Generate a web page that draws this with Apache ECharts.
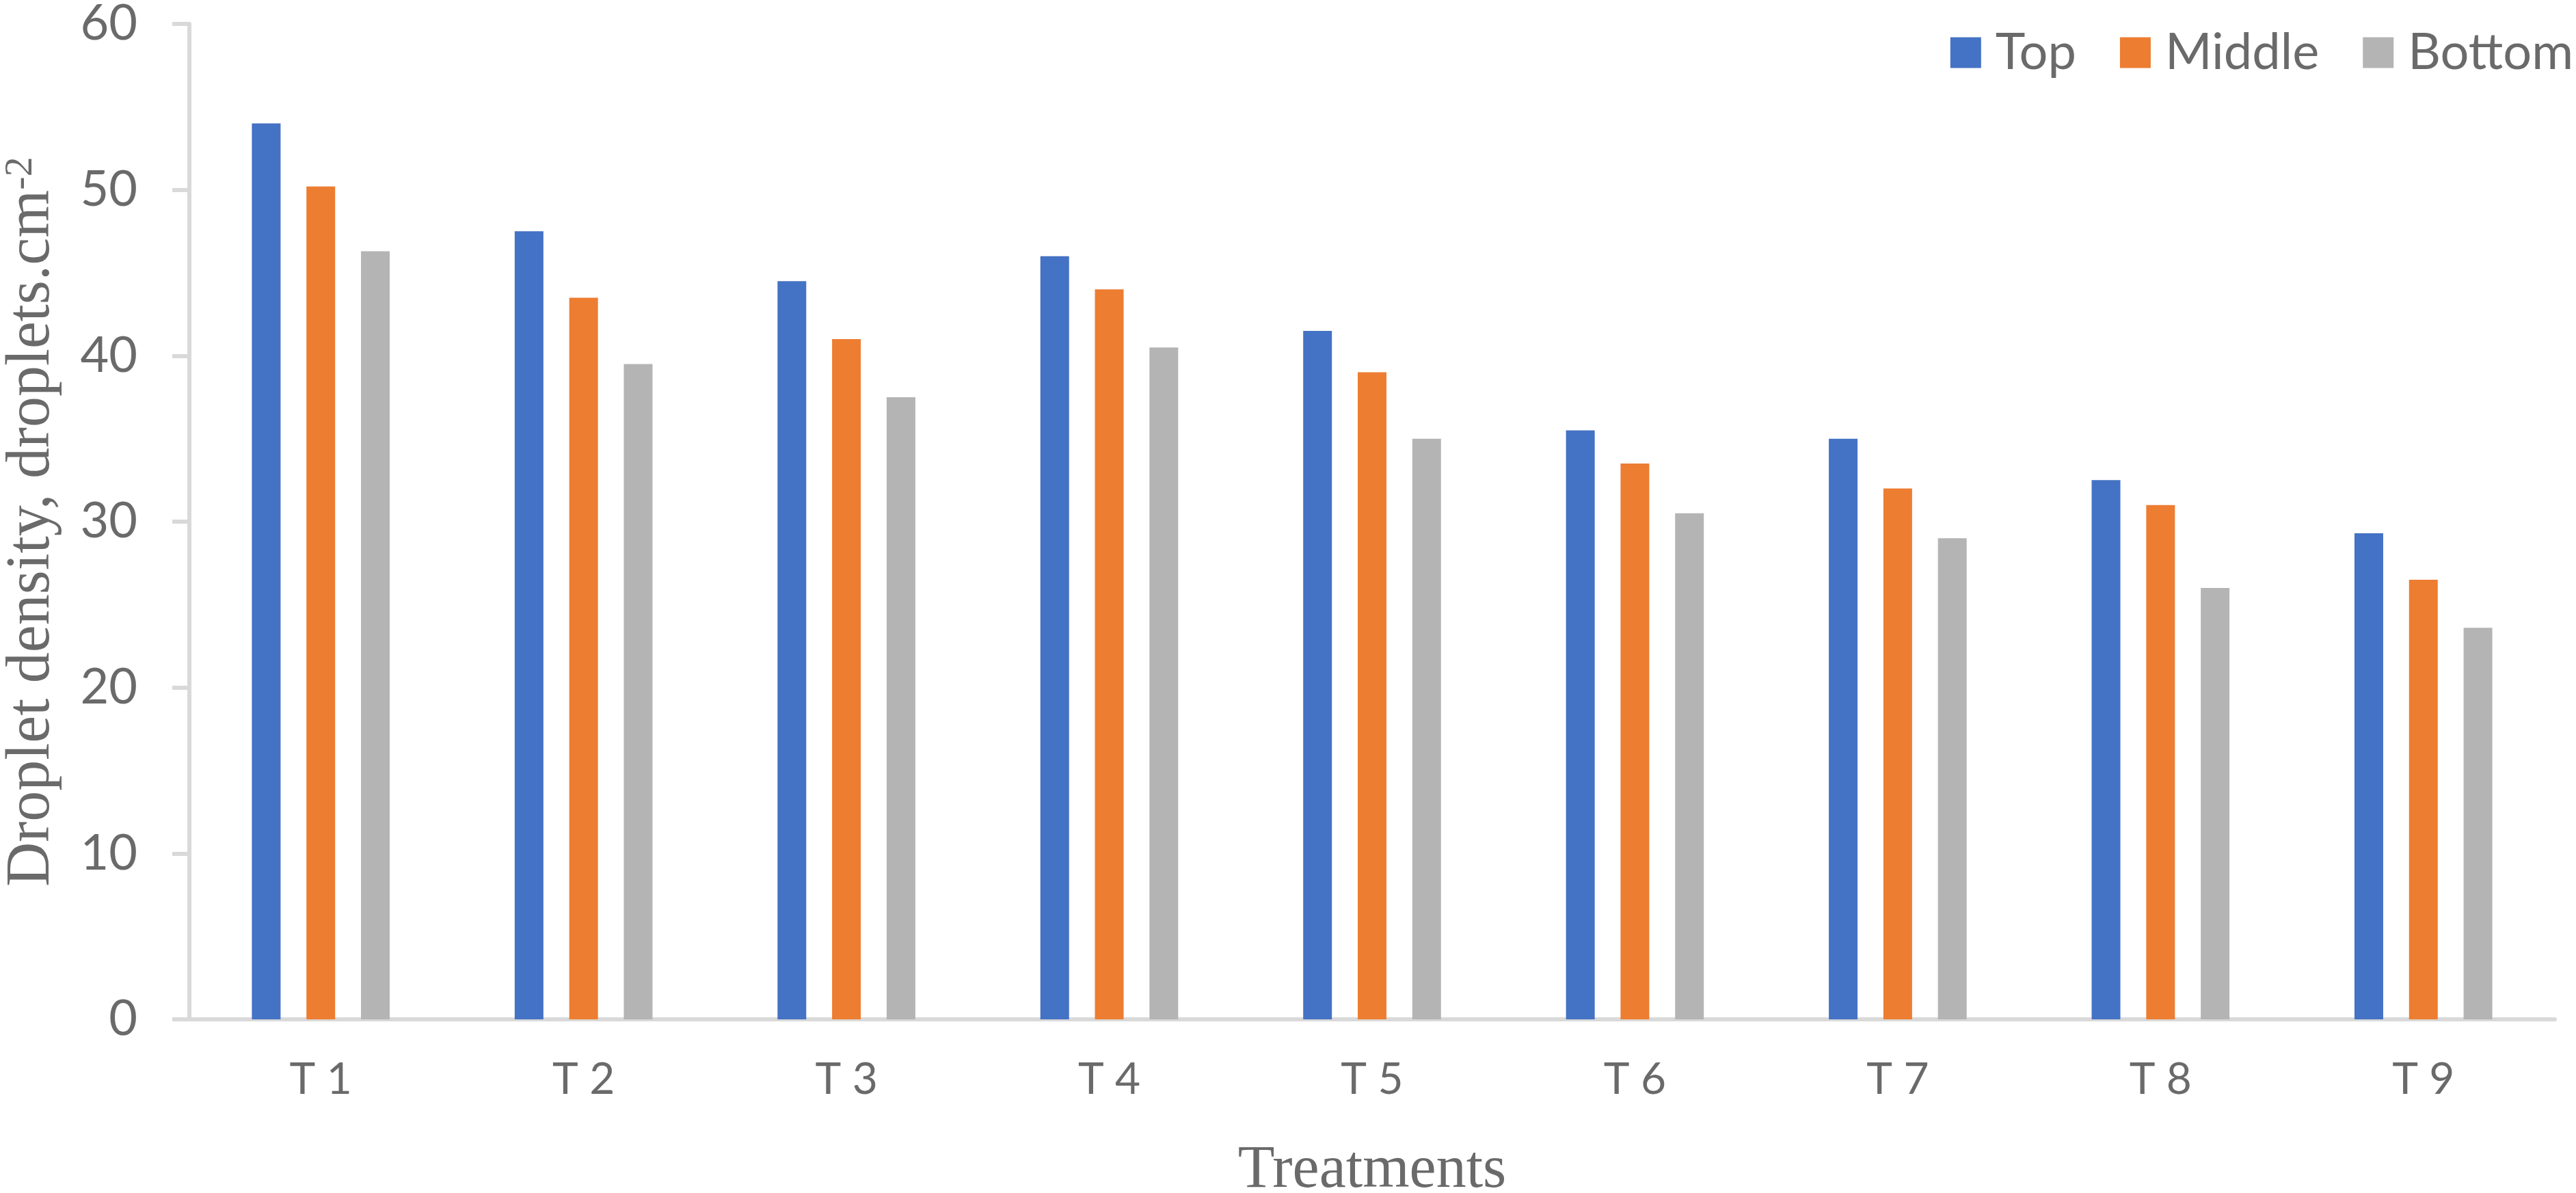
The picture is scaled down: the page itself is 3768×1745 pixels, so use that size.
<!DOCTYPE html>
<html>
<head>
<meta charset="utf-8">
<title>Droplet density</title>
<script src="https://cdn.jsdelivr.net/npm/echarts@6/dist/echarts.min.js"></script>
<style>
  html, body { margin: 0; padding: 0; background: #fff; }
  #chart { width: 3768px; height: 1745px; }
</style>
</head>
<body>
<div id="chart"></div>
<script>
// data
var treatments = ["T 1", "T 2", "T 3", "T 4", "T 5", "T 6", "T 7", "T 8", "T 9"];
var seriesNames = ["Top", "Middle", "Bottom"];
var topValues = [54.0, 47.5, 44.5, 46.0, 41.5, 35.5, 35.0, 32.5, 29.3];
var middleValues = [50.2, 43.5, 41.0, 44.0, 39.0, 33.5, 32.0, 31.0, 26.5];
var bottomValues = [46.3, 39.5, 37.5, 40.5, 35.0, 30.5, 29.0, 26.0, 23.6];
var yTicks = [0, 10, 20, 30, 40, 50, 60];

var colors = ["#4472c4", "#ed7d31", "#b4b4b4"];
var textColor = "#6a6a6a";
var axisColor = "#d9d9d9";

var chart = echarts.init(document.getElementById("chart"));

function bar(name, data, color) {
    return {
        name: name,
        type: "bar",
        data: data,
        barWidth: 42,
        barGap: "90%",
        itemStyle: { color: color }
    };
}

var option = {
    animation: false,
    backgroundColor: "#ffffff",
    // fixed plot box, no auto shrinking for labels
    grid: { left: 277, right: 31, top: 35, bottom: 254, containLabel: false, outerBoundsMode: "none" },
    legend: {
        data: seriesNames,
        right: 4,
        top: 40,
        padding: 0,
        itemWidth: 45,
        itemHeight: 45,
        itemGap: 64,
        icon: "rect",
        textStyle: {
            fontFamily: "Lato",
            fontSize: 74,
            color: textColor,
            lineHeight: 45,
            padding: [0, 0, 0, 16]
        }
    },
    xAxis: {
        type: "category",
        data: treatments,
        name: "Treatments",
        nameLocation: "middle",
        nameGap: 178,
        nameTextStyle: { fontFamily: "Liberation Serif", fontSize: 88, color: textColor },
        axisLine: { show: true, lineStyle: { color: axisColor, width: 6 } },
        axisTick: { show: false },
        axisLabel: { fontFamily: "Lato", fontSize: 64, color: textColor, margin: 56 },
        splitLine: { show: false }
    },
    yAxis: {
        type: "value",
        min: yTicks[0],
        max: yTicks[yTicks.length - 1],
        interval: 10,
        name: "Droplet density, droplets.cm{sup|-2}",
        nameLocation: "middle",
        nameGap: 185,
        nameTextStyle: {
            fontFamily: "Liberation Serif",
            fontSize: 90,
            color: textColor,
            rich: {
                sup: { fontFamily: "Liberation Serif", fontSize: 58, color: textColor, verticalAlign: "top" }
            }
        },
        axisLine: { show: true, lineStyle: { color: axisColor, width: 6 } },
        axisTick: { show: true, length: 25, lineStyle: { color: axisColor, width: 6 } },
        axisLabel: { fontFamily: "Lato", fontSize: 72, color: textColor, margin: 76 },
        splitLine: { show: false }
    },
    series: [
        bar(seriesNames[0], topValues, colors[0]),
        bar(seriesNames[1], middleValues, colors[1]),
        bar(seriesNames[2], bottomValues, colors[2])
    ]
};

chart.setOption(option);
</script>
</body>
</html>
